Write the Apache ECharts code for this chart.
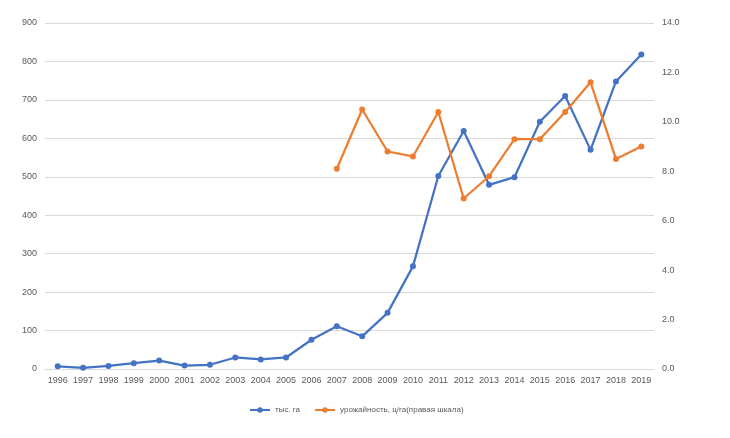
<!DOCTYPE html>
<html><head><meta charset="utf-8">
<script src="https://cdn.jsdelivr.net/npm/echarts@6/dist/echarts.min.js"></script>
<style>html,body{margin:0;padding:0;background:#fff}#c{width:730px;height:438px}</style>
</head><body><div id="c"></div>
<script>
const years = ['1996','1997','1998','1999','2000','2001','2002','2003','2004','2005','2006','2007','2008','2009','2010','2011','2012','2013','2014','2015','2016','2017','2018','2019'];
const area = [7,3,8,15,22,9,11,30,25,30,76,111,85,146,267,502,619,479,499,643,710,570,748,818];
const yieldVals = [null,null,null,null,null,null,null,null,null,null,null,8.1,10.5,8.8,8.6,10.4,6.9,7.8,9.3,9.3,10.4,11.6,8.5,9.0];
const leftTicks = {min:0,max:900,interval:100};
const rightTicks = {min:0,max:14,interval:2};
const chart = echarts.init(document.getElementById('c'));
const lab = {color:'#595959',fontSize:9,fontFamily:'Liberation Sans, Arial, sans-serif'};
chart.setOption({
  animation:false,
  grid:{left:45,right:76,top:23,bottom:69},
  legend:{bottom:19,left:244,itemWidth:20,itemHeight:7,itemGap:14,textStyle:{...lab,fontSize:8},
    data:['тыс. га','урожайность, ц/га(правая шкала)']},
  xAxis:{type:'category',data:years,boundaryGap:true,axisLine:{lineStyle:{color:'#d9d9d9'}},axisTick:{show:false},axisLabel:{...lab,margin:7,interval:0}},
  yAxis:[
    {type:'value',...leftTicks,axisLine:{show:false},axisTick:{show:false},splitLine:{lineStyle:{color:'#d9d9d9'}},axisLabel:{...lab,margin:8}},
    {type:'value',...rightTicks,position:'right',axisLine:{show:false},axisTick:{show:false},splitLine:{show:false},axisLabel:{...lab,margin:8,formatter:v=>v.toFixed(1)}}
  ],
  series:[
    {name:'тыс. га',type:'line',data:area,yAxisIndex:0,symbol:'circle',symbolSize:6,lineStyle:{width:2.25,color:'#4472C4'},itemStyle:{color:'#4472C4'}},
    {name:'урожайность, ц/га(правая шкала)',type:'line',data:yieldVals,yAxisIndex:1,symbol:'circle',symbolSize:6,lineStyle:{width:2.25,color:'#ED7D31'},itemStyle:{color:'#ED7D31'}}
  ]
});
</script></body></html>
